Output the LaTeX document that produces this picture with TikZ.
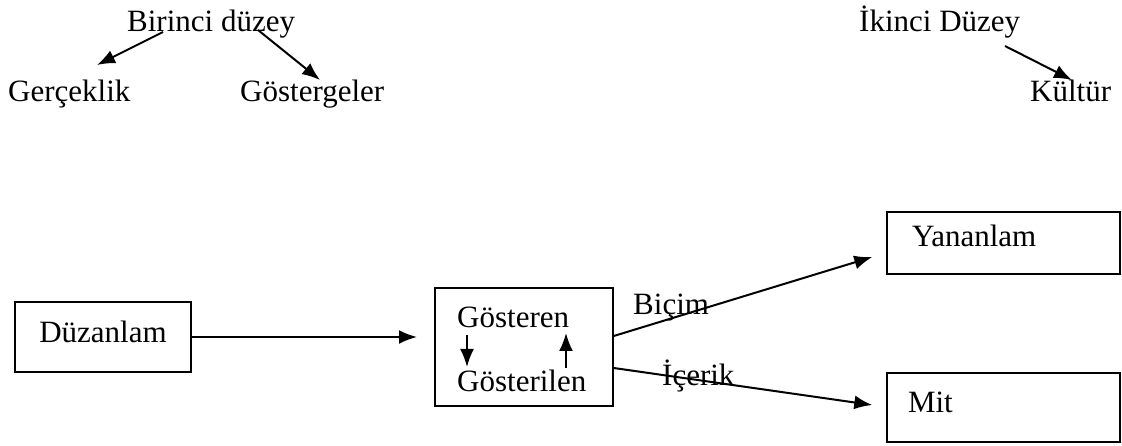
\documentclass[tikz,border=0pt]{standalone}
\usepackage{fontspec}
\setmainfont{Liberation Serif}
\usetikzlibrary{arrows.meta}
\begin{document}
\begin{tikzpicture}[x=1pt,y=-1pt,
  lbl/.style={anchor=base west, inner sep=0pt, font=\fontsize{31}{37}\selectfont},
  boxnode/.style={draw, line width=1.5pt, font=\fontsize{31}{37}\selectfont, inner sep=0pt},
  arr/.style={line width=2pt, -{Latex[length=18pt,width=14pt]}},
]
\useasboundingbox (0,0) rectangle (1122,446);
% top labels
\node[lbl] (bir) at (127,32) {Birinci düzey};
\node[lbl] (ger) at (8,102) {Gerçeklik};
\node[lbl] (gos) at (240,102) {Göstergeler};
\node[lbl] (iki) at (859,32) {İkinci Düzey};
\node[lbl] (kul) at (1030,102) {Kültür};
\coordinate (b1s) at (163,32);
\coordinate (b1e) at (97,65);
\coordinate (b2s) at (258,30);
\coordinate (b2e) at (320,80);
\coordinate (i1s) at (1005,46);
\coordinate (i1e) at (1072,80);
\draw[arr] (b1s) -- (b1e);
\draw[arr] (b2s) -- (b2e);
\draw[arr] (i1s) -- (i1e);
% boxes
\node[boxnode, minimum width=176pt, minimum height=70pt, text height=16pt, text depth=6pt] (duz) at (103,337) {Düzanlam};
\node[boxnode, minimum width=178pt, minimum height=118pt] (mid) at (524,347) {};
\node[boxnode, minimum height=62pt, inner xsep=25pt, text width=183pt, align=left, text height=16pt, text depth=8pt] (yan) at (1003.5,243) {Yananlam};
\node[boxnode, minimum height=69pt, inner xsep=21pt, text width=191pt, align=left, text height=16pt, text depth=7pt] (mit) at (1003.5,407.5) {Mit};
% inside middle box
\node[lbl] (gren) at (457,328) {Gösteren};
\node[lbl] (glen) at (457,391) {Gösterilen};
\coordinate (d1s) at (467,335);
\coordinate (d1e) at (467,367);
\coordinate (u1s) at (566,368);
\coordinate (u1e) at (566,333);
\draw[arr] (d1s) -- (d1e);
\draw[arr] (u1s) -- (u1e);
% labels on connectors
\node[lbl] (bic) at (633,315) {Biçim};
\node[lbl] (ice) at (662,385) {İçerik};
% connectors
\coordinate (dend) at (417,337);
\draw[arr] (duz.east) -- (dend);
\draw[arr] ([yshift=11pt]mid.east) -- ([xshift=-14pt,yshift=-14pt]yan.west);
\draw[arr] ([yshift=-21pt]mid.east) -- ([xshift=-14pt,yshift=2.5pt]mit.west);
\end{tikzpicture}
\end{document}
